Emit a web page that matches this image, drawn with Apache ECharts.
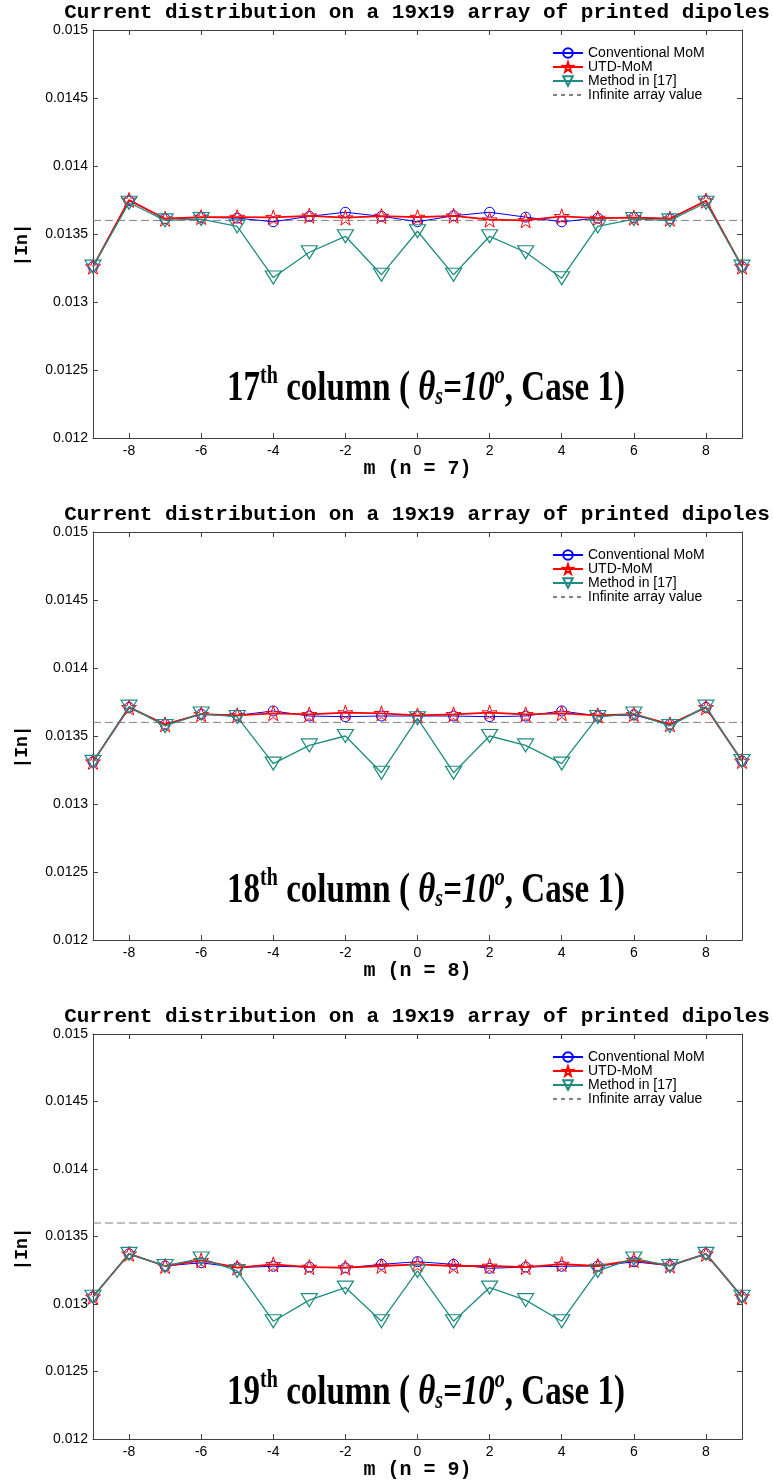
<!DOCTYPE html>
<html>
<head>
<meta charset="utf-8">
<script src="https://cdn.jsdelivr.net/npm/echarts@6/dist/echarts.min.js"></script>
<style>
html,body{margin:0;padding:0;background:#fff;}
#chart{width:773px;height:1481px;}
</style>
</head>
<body>
<div id="chart"></div>
<script>
// ---- data ----
const mValues = [-9,-8,-7,-6,-5,-4,-3,-2,-1,0,1,2,3,4,5,6,7,8,9];
const xTickValues = [-8,-6,-4,-2,0,2,4,6,8];
const yTickLabels = ['0.012','0.0125','0.013','0.0135','0.014','0.0145','0.015'];
const seriesNames = ['Conventional MoM','UTD-MoM','Method in [17]','Infinite array value'];
const infiniteValue = 0.0136;
const titleText = 'Current distribution on a 19x19 array of printed dipoles';
const yLabelText = '|In|';
const columnLabels = ['17','18','19'];
const nValues = [7, 8, 9];

// column 17 (n = 7)
const conv1 = [0.01326,0.013745,0.013612,0.013622,0.013617,0.01359,0.01363,0.01366,0.01363,0.01359,0.013634,0.01366,0.013624,0.01359,0.013617,0.013622,0.013612,0.013745,0.01326];
const utd1  = [0.01326,0.01375,0.013612,0.013624,0.013624,0.013622,0.013634,0.01362,0.013632,0.013624,0.013634,0.013605,0.0136,0.01363,0.013617,0.01362,0.013612,0.013745,0.01326];
const meth1 = [0.01326,0.01373,0.0136,0.01361,0.013556,0.01318,0.013366,0.013483,0.0132,0.01352,0.0132,0.013483,0.013366,0.013175,0.013556,0.01361,0.0136,0.01373,0.01326];
// column 18 (n = 8)
const conv2 = [0.01331,0.01371,0.013586,0.01366,0.013652,0.013684,0.013647,0.013642,0.013647,0.013647,0.013647,0.013642,0.013647,0.013684,0.013647,0.013655,0.013586,0.01371,0.013316];
const utd2  = [0.01331,0.01371,0.013586,0.01366,0.013652,0.013667,0.013659,0.013672,0.013667,0.013652,0.013659,0.013672,0.013659,0.013667,0.013652,0.01366,0.013586,0.01371,0.013316];
const meth2 = [0.01331,0.013716,0.013574,0.013665,0.01364,0.013297,0.013431,0.0135,0.01323,0.01363,0.01323,0.0135,0.013431,0.013297,0.01364,0.013665,0.013574,0.013716,0.013316];
// column 19 (n = 9)
const conv3 = [0.013054,0.013372,0.013282,0.013306,0.01327,0.01328,0.013274,0.013268,0.013294,0.013314,0.013294,0.013265,0.013274,0.01328,0.013282,0.013313,0.013285,0.013372,0.013054];
const utd3  = [0.013054,0.013372,0.013282,0.013323,0.01327,0.013294,0.013274,0.01327,0.013282,0.013294,0.013282,0.013282,0.013274,0.013296,0.013282,0.013325,0.013285,0.013372,0.013054];
const meth3 = [0.013054,0.013372,0.013282,0.013338,0.013245,0.012873,0.013029,0.013122,0.012873,0.013245,0.012873,0.013122,0.013029,0.012873,0.013245,0.013338,0.013282,0.013372,0.013054];

const panelData = [
  {conv: conv1, utd: utd1, meth: meth1},
  {conv: conv2, utd: utd2, meth: meth2},
  {conv: conv3, utd: utd3, meth: meth3}
];

// ---- layout / style ----
const tops = [30, 532, 1034];
const gridLeft = 93, gridRight = 31, gridH = 408;
const axisColor = '#404040';
const BLUE = '#0000ff', RED = '#ff0000', TEAL = '#1e8c80', GRAY = '#808080';
const STAR = 'path://M50,0 L61.8,35.1 L98.1,34.5 L69.1,56.7 L79.4,91.5 L50,70.9 L20.6,91.5 L30.9,56.7 L1.9,34.5 L38.2,35.1 Z';
const tickFont = {fontFamily: 'Liberation Sans', fontSize: 14, color: '#000'};
const monoBold = {fontFamily: 'Liberation Mono', fontWeight: 'bold', color: '#000'};
const CLEAR = 'rgba(255,255,255,0)';

const pair = arr => mValues.map((m, i) => [m, arr[i]]);

const grid = [], xAxis = [], yAxis = [], series = [], legend = [], graphic = [];

tops.forEach((top, p) => {
  grid.push({left: gridLeft, right: gridRight, top: top, height: gridH});
  xAxis.push({
    type: 'value', gridIndex: p, position: 'bottom', min: -9, max: 9,
    name: 'm (n = ' + nValues[p] + ')', nameLocation: 'middle', nameGap: 13,
    nameTextStyle: Object.assign({fontSize: 20}, monoBold),
    axisLine: {show: true, onZero: false, lineStyle: {color: axisColor, width: 1}},
    axisTick: {show: true, inside: true, length: 5, customValues: xTickValues, lineStyle: {color: axisColor}},
    axisLabel: Object.assign({show: true, margin: 6, customValues: xTickValues}, tickFont),
    splitLine: {show: false}
  });
  xAxis.push({
    type: 'value', gridIndex: p, position: 'top', min: -9, max: 9,
    axisLine: {show: true, onZero: false, lineStyle: {color: axisColor, width: 1}},
    axisTick: {show: true, inside: true, length: 5, customValues: xTickValues, lineStyle: {color: axisColor}},
    axisLabel: {show: false}, splitLine: {show: false}
  });
  yAxis.push({
    type: 'value', gridIndex: p, position: 'left', min: 0.012, max: 0.015, interval: 0.0005,
    axisLine: {show: true, onZero: false, lineStyle: {color: axisColor, width: 1}},
    axisTick: {show: true, inside: true, length: 5, lineStyle: {color: axisColor}},
    axisLabel: Object.assign({show: true, margin: 5,
      formatter: v => yTickLabels[Math.round((v - 0.012) / 0.0005)] || ''}, tickFont),
    splitLine: {show: false}
  });
  yAxis.push({
    type: 'value', gridIndex: p, position: 'right', min: 0.012, max: 0.015, interval: 0.0005,
    axisLine: {show: true, onZero: false, lineStyle: {color: axisColor, width: 1}},
    axisTick: {show: true, inside: true, length: 5, lineStyle: {color: axisColor}},
    axisLabel: {show: false}, splitLine: {show: false}
  });
  const xi = p * 2, yi = p * 2;
  const d = panelData[p];
  series.push({
    name: seriesNames[0], type: 'line', xAxisIndex: xi, yAxisIndex: yi, data: pair(d.conv),
    symbol: 'circle', symbolSize: 10, showAllSymbol: true,
    lineStyle: {color: BLUE, width: 1},
    itemStyle: {color: CLEAR, borderColor: BLUE, borderWidth: 1},
    emphasis: {disabled: true}, z: 2
  });
  series.push({
    name: seriesNames[1], type: 'line', xAxisIndex: xi, yAxisIndex: yi, data: pair(d.utd),
    symbol: STAR, symbolSize: 15, showAllSymbol: true,
    lineStyle: {color: RED, width: 1.8},
    itemStyle: {color: CLEAR, borderColor: RED, borderWidth: 1},
    emphasis: {disabled: true}, z: 3
  });
  series.push({
    name: seriesNames[2], type: 'line', xAxisIndex: xi, yAxisIndex: yi, data: pair(d.meth),
    symbol: 'triangle', symbolRotate: 180, symbolSize: [16, 13], showAllSymbol: true,
    lineStyle: {color: TEAL, width: 1.3},
    itemStyle: {color: CLEAR, borderColor: TEAL, borderWidth: 1.2},
    emphasis: {disabled: true}, z: 4
  });
  series.push({
    name: seriesNames[3], type: 'line', xAxisIndex: xi, yAxisIndex: yi,
    data: [[-9, infiniteValue], [9, infiniteValue]],
    symbol: 'none', lineStyle: {color: GRAY, width: 1, type: [8, 4]},
    itemStyle: {color: GRAY},
    emphasis: {disabled: true}, z: 1
  });
  legend.push({
    data: [
      {name: seriesNames[0]},
      {name: seriesNames[1]},
      {name: seriesNames[2]},
      {name: seriesNames[3], itemStyle: {opacity: 0}, lineStyle: {type: [4, 4]}}
    ],
    orient: 'vertical', left: 552, top: top + 16, padding: 0,
    itemWidth: 30, itemHeight: 12, itemGap: 0, selectedMode: false,
    textStyle: {fontFamily: 'Liberation Sans', fontSize: 14, color: '#000', lineHeight: 14}
  });
  graphic.push({
    type: 'text', x: 417, y: top - 17,
    style: {text: titleText, font: 'bold 21px "Liberation Mono"', fill: '#000', align: 'center', verticalAlign: 'middle'}
  });
  graphic.push({
    type: 'text', x: 22, y: top + 215, rotation: Math.PI / 2,
    style: {text: yLabelText, font: 'bold 18px "Liberation Mono"', fill: '#000', align: 'center', verticalAlign: 'middle'}
  });
  graphic.push({
    type: 'text', x: 426, y: top + 357, scaleY: 1.27,
    style: {
      text: '{n|' + columnLabels[p] + '}{sup|th}{n| column ( }{it|θ}{sub|s}{it|=10}{sup2|o}{n|, Case 1)}',
      align: 'center', verticalAlign: 'middle', fill: '#000',
      rich: {
        n:   {fontFamily: 'Liberation Serif', fontWeight: 'bold', fontSize: 33, lineHeight: 36, verticalAlign: 'bottom'},
        it:  {fontFamily: 'Liberation Serif', fontWeight: 'bold', fontStyle: 'italic', fontSize: 33, lineHeight: 36, verticalAlign: 'bottom'},
        sup: {fontFamily: 'Liberation Serif', fontWeight: 'bold', fontSize: 20, lineHeight: 20, verticalAlign: 'top'},
        sup2:{fontFamily: 'Liberation Serif', fontWeight: 'bold', fontStyle: 'italic', fontSize: 20, lineHeight: 20, verticalAlign: 'top'},
        sub: {fontFamily: 'Liberation Serif', fontWeight: 'bold', fontStyle: 'italic', fontSize: 20, lineHeight: 16, verticalAlign: 'bottom'}
      }
    }
  });
});

const chart = echarts.init(document.getElementById('chart'), null, {renderer: 'canvas'});
chart.setOption({
  animation: false,
  backgroundColor: '#fff',
  grid, xAxis, yAxis, series, legend, graphic
});
</script>
</body>
</html>
